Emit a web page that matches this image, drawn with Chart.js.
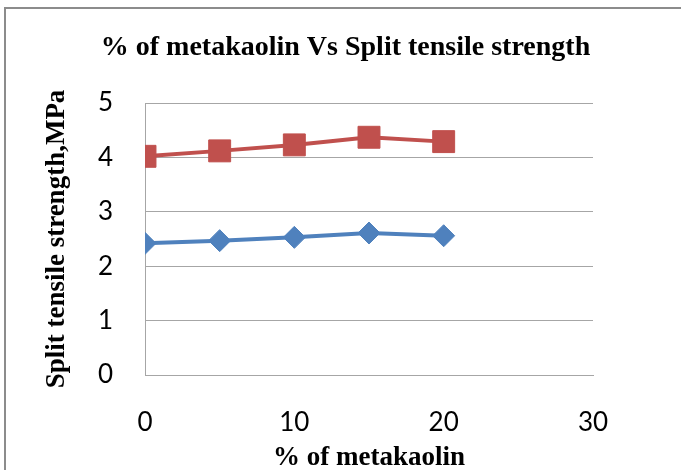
<!DOCTYPE html>
<html>
<head>
<meta charset="utf-8">
<script src="https://cdn.jsdelivr.net/npm/chart.js@4"></script>
<style>
  html, body { margin: 0; padding: 0; background: #fff; }
  #wrap { position: relative; width: 681px; height: 470px; overflow: hidden; }
  #frame {
    position: absolute; left: 4px; top: 7px; right: -10px; bottom: -10px;
    border-left: 2px solid #8c8c8c; border-top: 2px solid #8c8c8c;
  }
  canvas { position: absolute; left: 0; top: 0; }
</style>
</head>
<body>
<div id="wrap">
  <div id="frame"></div>
  <canvas id="chart" width="681" height="470"></canvas>
</div>
<script>
// ── Data ─────────────────────────────────────────────────────────────────────
const metakaolin = [0, 5, 10, 15, 20];
const seriesBlue = [2.42, 2.47, 2.53, 2.61, 2.56];
const seriesRed  = [4.02, 4.12, 4.23, 4.37, 4.29];
const xTicks = [0, 10, 20, 30];
const yTicks = [0, 1, 2, 3, 4, 5];

// ── Colours ──────────────────────────────────────────────────────────────────
const BLUE = '#4f81bd';
const RED  = '#c0504d';
const GRID = '#a6a6a6';

const SERIF = "'Liberation Serif', 'Times New Roman', serif";
const SANS  = "Lato, 'Noto Sans', sans-serif";

const pts = vals => vals.map((v, i) => ({ x: metakaolin[i], y: v }));

new Chart(document.getElementById('chart').getContext('2d'), {
  type: 'line',
  data: {
    datasets: [
      {
        label: 'Series1',
        data: pts(seriesBlue),
        borderColor: BLUE,
        backgroundColor: BLUE,
        borderWidth: 4,
        pointStyle: 'rectRot',
        pointRadius: 11,
        pointBorderWidth: 1,
        tension: 0,
      },
      {
        label: 'Series2',
        data: pts(seriesRed),
        borderColor: RED,
        backgroundColor: RED,
        borderWidth: 4,
        pointStyle: 'rect',
        pointRadius: 15.5,
        pointBorderWidth: 1,
        tension: 0,
      },
    ],
  },
  options: {
    responsive: false,
    animation: false,
    layout: { padding: { left: 10, right: 0, top: 0, bottom: 0 } },
    plugins: {
      legend: { display: false },
      tooltip: { enabled: false },
      title: {
        display: true,
        text: '% of metakaolin Vs Split tensile strength',
        color: '#000',
        font: { family: SERIF, size: 28, weight: 'bold', lineHeight: 1 },
        padding: { top: 34, bottom: 41 },
      },
    },
    scales: {
      x: {
        type: 'linear',
        min: 0, max: 30,
        afterBuildTicks: s => { s.ticks = xTicks.map(v => ({ value: v })); },
        afterFit: s => { s.height = 95; },
        grid: { display: false, drawTicks: false },
        border: { display: true, color: GRID, width: 1 },
        ticks: { color: '#000', padding: 32, font: { family: SANS, size: 26 } },
        title: {
          display: true,
          text: '% of metakaolin',
          color: '#000',
          font: { family: SERIF, size: 27, weight: 'bold', lineHeight: 1 },
          padding: { top: 0, bottom: -2 },
        },
      },
      y: {
        min: 0, max: 5,
        afterBuildTicks: s => { s.ticks = yTicks.map(v => ({ value: v })); },
        afterFit: s => { s.width = 135; },
        grid: { color: GRID, lineWidth: 1, drawTicks: false },
        border: { display: true, color: GRID, width: 1 },
        ticks: { color: '#000', padding: 32, font: { family: SANS, size: 26 } },
        title: {
          display: true,
          text: 'Split tensile strength,MPa',
          color: '#000',
          font: { family: SERIF, size: 27, weight: 'bold', lineHeight: 1 },
          padding: { top: 34, bottom: 0 },
        },
      },
      y2: {
        position: 'right',
        display: true,
        min: 0, max: 5,
        afterFit: s => { s.width = 88; },
        grid: { display: false, drawTicks: false },
        border: { display: false },
        ticks: { display: false },
      },
    },
  },
});
</script>
</body>
</html>
